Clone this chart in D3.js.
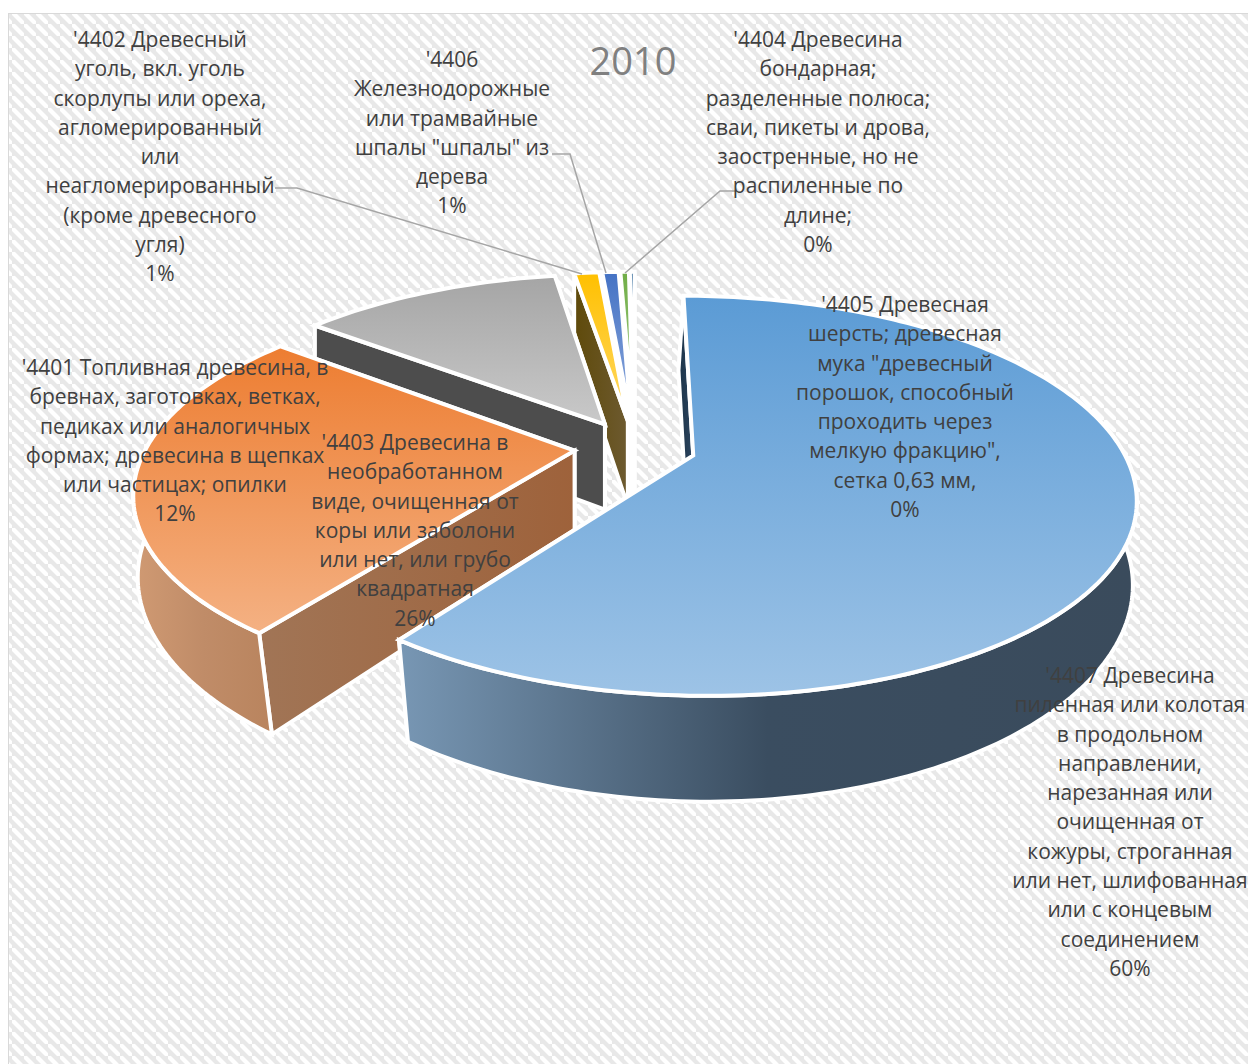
<!DOCTYPE html>
<html><head><meta charset="utf-8">
<script src="https://cdn.jsdelivr.net/npm/d3@7"></script>
<style>html,body{margin:0;padding:0;background:#fff}svg{display:block}</style>
</head><body><div id="chart"></div>
<script>
// ---- data ----
const categories = ["4407","4403","4401","4402","4406","4404","4405"];
const shares = [60.1, 25.5, 11.9, 1.15, 0.75, 0.39, 0.22];
const title = "2010";
const labelLines = [
 ["'4407 Древесина","пиленная или колотая","в продольном","направлении,","нарезанная или","очищенная от","кожуры, строганная","или нет, шлифованная","или с концевым","соединением","60%"],
 ["'4403 Древесина в","необработанном","виде, очищенная от","коры или заболони","или нет, или грубо","квадратная","26%"],
 ["'4401 Топливная древесина, в","бревнах, заготовках, ветках,","педиках или аналогичных","формах; древесина в щепках","или частицах; опилки","12%"],
 ["'4402 Древесный","уголь, вкл. уголь","скорлупы или ореха,","агломерированный","или","неагломерированный","(кроме древесного","угля)","1%"],
 ["'4406","Железнодорожные","или трамвайные","шпалы \"шпалы\" из","дерева","1%"],
 ["'4404 Древесина","бондарная;","разделенные полюса;","сваи, пикеты и дрова,","заостренные, но не","распиленные по","длине;","0%"],
 ["'4405 Древесная","шерсть; древесная","мука \"древесный","порошок, способный","проходить через","мелкую фракцию\",","сетка 0,63 мм,","0%"]
];
// ---- layout & style (separate from data) ----
const labelAnchorX = [1130,415,175,160,452,818,905];
const labelFirstY  = [675,442,367,39,59,39,304];
const lineStep = 29.3;
const leaderPaths = [
 [[275,188],[297,188],[582,274]],
 [[552,154],[570,154],[606,273]],
 [[735,191],[720,191],[625,273]]
];
const topStops = [["#5b9bd5","#9dc3e6"],["#ed7d31","#f4b183"],["#a5a5a5","#c9c9c9"],["#ffc000","#ffd966"],["#4472c4","#8faadc"],["#70ad47","#a9d18e"],["#255e91","#5b9bd5"]];
const wallStops = [["#7897b4","#3a4d60","#3a4b5c"],["#d09a73","#c08c68","#b9845e"],["#4d4d4d","#4d4d4d","#4d4d4d"],["#5f4a0a","#67551f","#6d5a30"],["#2a4a80","#2a4a80","#2a4a80"],["#43682a","#43682a","#43682a"],["#1b3a58","#1b3a58","#1b3a58"]];
const cutStops = [["#1c3347","#2c4560"],["#a17556","#9e623b"],["#4d4d4d","#4d4d4d"],["#5f4a0a","#6d5a30"],["#2a4a80","#2a4a80"],["#43682a","#43682a"],["#1b3a58","#1b3a58"]];
const cutLowShift = [-5,0,0,0,0,0,0];

const W=1248,H=1064;
const CAM = {x0:635,y0:447,a:428,b:188.5,k:0.2,e:0.142,d:88,m:0.012,cx:700,mx:0.035};
function project(u,v,low){
  const w = 1 - CAM.k*v;
  const xTop = CAM.x0 + CAM.a*u/w;
  if(!low) return [xTop, CAM.y0 + CAM.b*v/w];
  return [xTop + (CAM.cx - xTop)*CAM.mx*Math.max(0,v), CAM.y0 + (CAM.b*v + CAM.d)/(w + CAM.m)];
}
const svg = d3.select("#chart").append("svg").attr("width",W).attr("height",H);
const defs = svg.append("defs");
const pat = defs.append("pattern").attr("id","hatch").attr("patternUnits","userSpaceOnUse")
  .attr("width",12).attr("height",12);
pat.append("rect").attr("width",12).attr("height",12).attr("fill","#fff");
pat.append("path").attr("d","M-3,3L3,-3M-3,9L9,-3M3,15L15,3M9,15L15,9").attr("transform","scale(-1,1) translate(-12,0)")
  .attr("stroke","#e8e8e8").attr("stroke-width",4.2).attr("fill","none");
svg.append("rect").attr("x",8.5).attr("y",13.5).attr("width",W).attr("height",H)
  .attr("fill","url(#hatch)").attr("stroke","#d9d9d9");

function grad(id,stops,vertical){
  const g=defs.append("linearGradient").attr("id",id)
    .attr("x1",0).attr("y1",0).attr("x2",vertical?0:1).attr("y2",vertical?1:0);
  const pos=d3.scaleLinear().domain([0,stops.length-1]).range([0,1]);
  stops.forEach((c,i)=>g.append("stop").attr("offset",pos(i)).attr("stop-color",c));
  return `url(#${id})`;
}
const pie = d3.pie().sort(null).value(d=>d)(shares);
const line = d3.line();
const order = [6,5,4,3,2,1,0];
const gPie = svg.append("g");
order.forEach(i=>{
  const s=pie[i], mid=(s.startAngle+s.endAngle)/2;
  const ou=CAM.e*Math.sin(mid), ov=-CAM.e*Math.cos(mid);
  const plane=(r,t)=>[ou+r*Math.sin(t), ov-r*Math.cos(t)];
  const n=Math.max(3,Math.ceil((s.endAngle-s.startAngle)/0.02));
  const ang=d3.range(n+1).map(j=>s.startAngle+(s.endAngle-s.startAngle)*j/n);
  const rimTop=ang.map(t=>{const p=plane(1,t);return project(p[0],p[1],false)});
  const rimLow=ang.map(t=>{const p=plane(1,t);return project(p[0],p[1],true)});
  const aT=project(ou,ov,false), aL=project(ou,ov,true);
  const fCut=grad("c"+i,cutStops[i]), fWall=grad("w"+i,wallStops[i]), fTop=grad("t"+i,topStops[i],true);
  const face=(pts,f)=>gPie.append("path").attr("d",line(pts)+"Z").attr("fill",f)
    .attr("stroke","#fff").attr("stroke-width",4).attr("stroke-linejoin","miter");
  const sh=p=>[p[0]+cutLowShift[i],p[1]];
  face([aT,rimTop[n],rimLow[n],aL],fCut);
  face([aT,rimTop[0],sh(rimLow[0]),sh(aL)],fCut);
  // outer wall: only the part of the rim that faces the viewer
  const front=d3.range(n+1).filter(j=>Math.cos(ang[j])<0.3);
  if(front.length>1){
    const ft=front.map(j=>rimTop[j]), fl=front.map(j=>rimLow[j]);
    face(ft.concat(fl.reverse()),fWall);
  }
  face([aT].concat(rimTop),fTop);
});

const gLead=svg.append("g");
leaderPaths.forEach(p=>gLead.append("path").attr("d",line(p)).attr("fill","none").attr("stroke","#a6a6a6").attr("stroke-width",1.5));

const gText=svg.append("g").attr("font-family","'Open Sans',sans-serif").attr("font-size",21).attr("fill","#404040").attr("text-anchor","middle");
labelLines.forEach((lines,i)=>{
  lines.forEach((t,j)=>gText.append("text").attr("x",labelAnchorX[i]).attr("y",labelFirstY[i]+j*lineStep).attr("dy","0.38em").text(t));
});
svg.append("text").attr("x",633).attr("y",74.5).attr("text-anchor","middle").attr("font-family","'Open Sans',sans-serif")
  .attr("font-size",38).attr("fill","#808080").text(title);
</script></body></html>
